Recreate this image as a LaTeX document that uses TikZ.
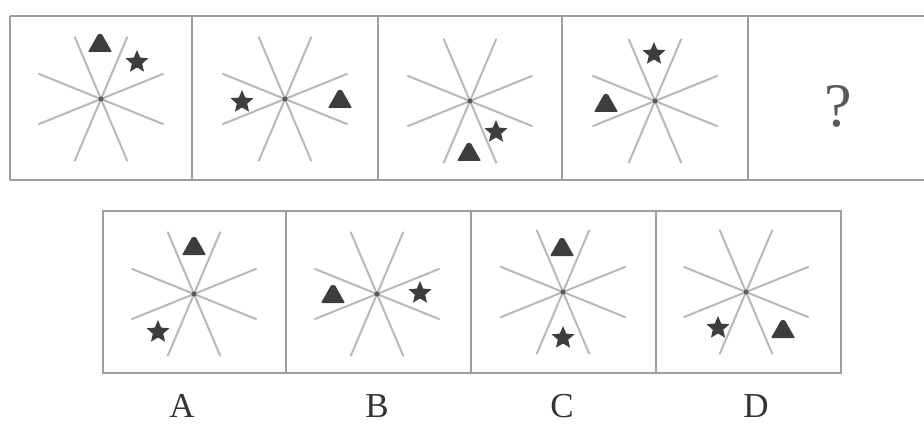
\documentclass[tikz,border=0pt]{standalone}
\usetikzlibrary{shapes.geometric}
\usepackage{fontspec}
\setmainfont{Liberation Serif}
\definecolor{raygray}{gray}{0.72}
\definecolor{framegray}{gray}{0.62}
\definecolor{markgray}{gray}{0.24}
\tikzset{
  frame/.style={draw=framegray, line width=1.6pt},
  ray/.style={draw=raygray, line width=2pt, line cap=round},
  hub/.style={circle, fill=markgray!85, inner sep=0pt, minimum size=5pt},
  starmark/.style={star, star points=5, star point ratio=2.2, fill=markgray, inner sep=0pt, minimum size=24pt},
  mountmark/.style={fill=markgray, rounded corners=1pt},
  lbl/.style={font=\fontsize{35}{35}\selectfont, text=black!80, anchor=base, inner sep=0pt},
  qmark/.style={font=\fontsize{62}{62}\selectfont, text=black!65, anchor=base, inner sep=0pt},
}
\newcommand{\burst}[2]{%
  \coordinate (#1) at (#2);
  \foreach \a in {22,-22,67,-67}
    \draw[ray] ([shift={(\a:67)}]#1) -- ([shift={(\a+180:67)}]#1);
  \node[hub] (#1hub) at (#1) {};
}
\newcommand{\mount}[1]{%
  \fill[mountmark, shift={(#1)}] (-12,8) -- (-1.8,-10) -- (1.8,-10) -- (12,8) -- cycle;
}
\begin{document}
\begin{tikzpicture}[x=1pt,y=-1pt]
\useasboundingbox (0,0) rectangle (924,425);
% top row frames
\draw[frame] (10,16) -- (930,16);
\draw[frame] (10,180) -- (930,180);
\foreach \x in {10,192,378,562,748} \draw[frame] (\x,16) -- (\x,180);
% bottom row frames
\draw[frame] (103,211) rectangle (841,373);
\foreach \x in {286,471,656} \draw[frame] (\x,211) -- (\x,373);
% top row figures
\burst{p1}{101,99}
\mount{100,44}
\node[starmark] (p1s) at (137,62) {};
\burst{p2}{285,99}
\node[starmark] (p2s) at (242,102) {};
\mount{340,100}
\burst{p3}{470,101}
\node[starmark] (p3s) at (496,132) {};
\mount{469,153}
\burst{p4}{655,101}
\node[starmark] (p4s) at (654,54) {};
\mount{606,104}
\node[qmark] (q) at (838,127) {?};
% options
\burst{oa}{194,294}
\mount{194,247}
\node[starmark] (oas) at (158,332) {};
\burst{ob}{377,294}
\mount{333,295}
\node[starmark] (obs) at (420,293) {};
\burst{oc}{563,292}
\mount{562,248}
\node[starmark] (ocs) at (563,338) {};
\burst{od}{746,292}
\node[starmark] (ods) at (718,328) {};
\mount{783,330}
% labels
\node[lbl] (la) at (182,417) {A};
\node[lbl] (lb) at (377,417) {B};
\node[lbl] (lc) at (562,417) {C};
\node[lbl] (ld) at (756,417) {D};
\end{tikzpicture}
\end{document}
